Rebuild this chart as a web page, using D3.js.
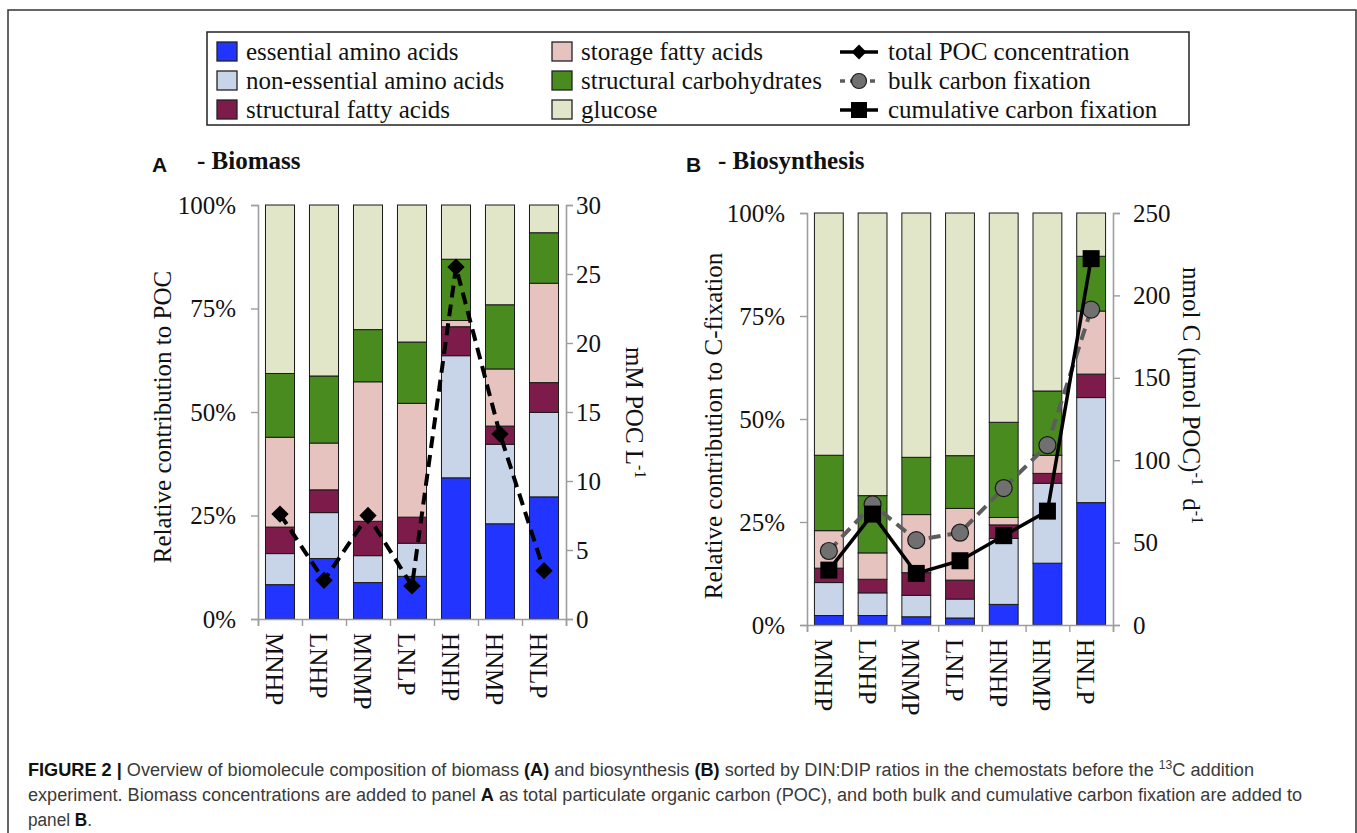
<!DOCTYPE html>
<html>
<head>
<meta charset="utf-8">
<script src="https://cdn.jsdelivr.net/npm/d3@7"></script>
<style>
body{margin:0;background:#fff;}
</style>
</head>
<body>
<script>
// chemostats, sorted by DIN:DIP
var stations = ["MNHP","LNHP","MNMP","LNLP","HNHP","HNMP","HNLP"];
var compounds = ["essential amino acids","non-essential amino acids","structural fatty acids",
                 "storage fatty acids","structural carbohydrates","glucose"];
var compoundColors = ["#2234ff","#c8d5e8","#7d1b4b","#e6c3bf","#4a8b20","#e1e6c8"];

// A - biomass, % of POC
var bioEssAA    = [8.3, 14.6, 8.8, 10.3, 34.1, 23.0, 29.5];
var bioNonEssAA = [7.5, 11.1, 6.5, 8.0, 29.5, 19.2, 20.4];
var bioStructFA = [6.4, 5.5, 8.3, 6.3, 7.0, 4.4, 7.2];
var bioStorFA   = [21.7, 11.3, 33.7, 27.5, 1.5, 13.8, 24.0];
var bioStructCH = [15.4, 16.2, 12.6, 14.8, 14.8, 15.5, 12.2];
var bioGlucose  = [40.7, 41.3, 30.1, 33.1, 13.1, 24.1, 6.7];
var pocConc     = [7.6, 2.8, 7.5, 2.4, 25.5, 13.4, 3.5];   // mM POC L-1

// B - biosynthesis, % of C-fixation
var synEssAA    = [2.3, 2.3, 2.0, 1.7, 5.0, 15.0, 29.7];
var synNonEssAA = [8.0, 5.5, 5.2, 4.6, 16.0, 19.4, 25.5];
var synStructFA = [3.5, 3.3, 5.5, 4.6, 3.3, 2.4, 5.7];
var synStorFA   = [9.1, 6.4, 14.1, 17.4, 1.8, 4.4, 15.3];
var synStructCH = [18.3, 13.9, 13.9, 12.8, 23.1, 15.6, 13.3];
var synGlucose  = [58.8, 68.6, 59.3, 58.9, 50.8, 43.2, 10.5];
var bulkFix     = [44.9, 73.2, 51.5, 56.0, 83.1, 109.1, 191.4]; // nmol C (umol POC)-1 d-1
var cumFix      = [33.3, 67.3, 31.3, 39.0, 54.2, 69.1, 222.3];

var pctTicks = [0, 25, 50, 75, 100];
var pocTicks = [0, 5, 10, 15, 20, 25, 30];
var fixTicks = [0, 50, 100, 150, 200, 250];

var SERIF = '"Liberation Serif","Times New Roman",serif';
var SANS = '"Liberation Sans",Arial,sans-serif';

var W = 1357, H = 833;
var svg = d3.select("body").append("svg").attr("width", W).attr("height", H)
    .style("font-family", SERIF);

// outer frame
svg.append("rect").attr("x", 8).attr("y", 10).attr("width", 1348).attr("height", 900)
    .attr("fill", "none").attr("stroke", "#333").attr("stroke-width", 1.5);

function rowsOf(series){
    return stations.map(function(s, i){
        var r = {station: s};
        compounds.forEach(function(c, j){ r[c] = series[j][i]; });
        return r;
    });
}

function styleAxis(g){
    g.attr("font-family", null);
    g.select(".domain").attr("stroke", "#9d9d9d").attr("stroke-width", 1.6);
    g.selectAll(".tick line").attr("stroke", "#9d9d9d").attr("stroke-width", 1.4);
    g.selectAll(".tick text").attr("font-size", 25).attr("fill", "#111");
}

function diamond(sel, size){
    sel.attr("d", d3.symbol(d3.symbolSquare, size)());
}

function drawPanel(p){
    var x = d3.scaleBand().domain(stations).range([p.x0, p.x1]).paddingInner(0.34).paddingOuter(0.17);
    var y = d3.scaleLinear().domain([0, 100]).range([p.y1, p.y0]);
    var yR = d3.scaleLinear().domain([0, p.rMax]).range([p.y1, p.y0]);
    var slots = d3.scaleLinear().domain([0, stations.length]).range([p.x0, p.x1]);

    var stacked = d3.stack().keys(compounds)(rowsOf(p.series));
    var g = svg.append("g");
    g.selectAll("g.layer").data(stacked).enter().append("g")
        .attr("class", "layer")
        .attr("fill", function(d, i){ return compoundColors[i]; })
        .selectAll("rect").data(function(d){ return d; }).enter().append("rect")
        .attr("x", function(d){ return x(d.data.station); })
        .attr("width", x.bandwidth())
        .attr("y", function(d){ return y(d[1]); })
        .attr("height", function(d){ return y(d[0]) - y(d[1]); })
        .attr("stroke", "#1a1a1a").attr("stroke-width", 1);

    var gl = svg.append("g").attr("transform", "translate(" + p.x0 + ",0)")
        .call(d3.axisLeft(y).tickValues(pctTicks).tickSize(7).tickPadding(15)
            .tickFormat(function(d){ return d + "%"; }));
    styleAxis(gl);
    var gr = svg.append("g").attr("transform", "translate(" + p.x1 + ",0)")
        .call(d3.axisRight(yR).tickValues(p.rTicks).tickSize(7).tickPadding(p.rPad));
    styleAxis(gr);
    var gb = svg.append("g").attr("transform", "translate(0," + p.y1 + ")")
        .call(d3.axisBottom(slots).tickValues(d3.range(stations.length + 1)).tickSize(7).tickFormat(""));
    styleAxis(gb);

    svg.append("g").selectAll("text").data(stations).enter().append("text")
        .attr("transform", function(d){
            return "translate(" + (x(d) + x.bandwidth() / 2 - 14) + "," + (p.y1 + 14) + ") rotate(90)";
        })
        .attr("font-size", 25).text(function(d){ return d; });

    return {x: x, yR: yR, cx: function(d, i){ return x(stations[i]) + x.bandwidth() / 2; }};
}

// ---------- panel A
var A = drawPanel({x0: 258, x1: 566, y0: 205, y1: 619, series:
    [bioEssAA, bioNonEssAA, bioStructFA, bioStorFA, bioStructCH, bioGlucose],
    rMax: 30, rTicks: pocTicks, rPad: 3});

svg.append("path").datum(pocConc)
    .attr("d", d3.line().x(A.cx).y(function(d){ return A.yR(d); }))
    .attr("fill", "none").attr("stroke", "#000").attr("stroke-width", 4)
    .attr("stroke-dasharray", "12,7");
svg.append("g").selectAll("path").data(pocConc).enter().append("path")
    .attr("transform", function(d, i){ return "translate(" + A.cx(d, i) + "," + A.yR(d) + ") rotate(45)"; })
    .call(diamond, 150).attr("fill", "#000");

// ---------- panel B
var B = drawPanel({x0: 807, x1: 1113, y0: 213, y1: 625, series:
    [synEssAA, synNonEssAA, synStructFA, synStorFA, synStructCH, synGlucose],
    rMax: 250, rTicks: fixTicks, rPad: 13});

svg.append("path").datum(bulkFix)
    .attr("d", d3.line().x(B.cx).y(function(d){ return B.yR(d); }))
    .attr("fill", "none").attr("stroke", "#5c5c5c").attr("stroke-width", 4)
    .attr("stroke-dasharray", "12,7");
svg.append("g").selectAll("circle").data(bulkFix).enter().append("circle")
    .attr("cx", B.cx).attr("cy", function(d){ return B.yR(d); }).attr("r", 8.5)
    .attr("fill", "#707070").attr("stroke", "#1a1a1a").attr("stroke-width", 1.2);

svg.append("path").datum(cumFix)
    .attr("d", d3.line().x(B.cx).y(function(d){ return B.yR(d); }))
    .attr("fill", "none").attr("stroke", "#000").attr("stroke-width", 3.5);
svg.append("g").selectAll("rect").data(cumFix).enter().append("rect")
    .attr("x", function(d, i){ return B.cx(d, i) - 8.5; })
    .attr("y", function(d){ return B.yR(d) - 8.5; })
    .attr("width", 17).attr("height", 17).attr("fill", "#000");

// ---------- axis titles
svg.append("text").attr("transform", "translate(171,417) rotate(-90)")
    .attr("text-anchor", "middle").attr("font-size", 25).text("Relative contribution to POC");
var tA = svg.append("text").attr("transform", "translate(626,347) rotate(90)").attr("font-size", 25);
tA.append("tspan").text("mM POC  L");
tA.append("tspan").attr("font-size", 16).attr("dy", -9).text("-1");

svg.append("text").attr("transform", "translate(722,426) rotate(-90)")
    .attr("text-anchor", "middle").attr("font-size", 25).text("Relative contribution to C-fixation");
var tB = svg.append("text").attr("transform", "translate(1183,267) rotate(90)").attr("font-size", 25);
tB.append("tspan").text("nmol C (\u00b5mol POC)");
tB.append("tspan").attr("font-size", 16).attr("dy", -9).text("-1");
tB.append("tspan").attr("dy", 9).text("\u00a0 d");
tB.append("tspan").attr("font-size", 16).attr("dy", -9).text("-1");

// ---------- panel titles
svg.append("text").attr("class", "sans").attr("x", 152).attr("y", 172).attr("font-size", 21)
    .attr("font-weight", "bold").text("A");
svg.append("text").attr("x", 197).attr("y", 169).attr("font-size", 25).attr("font-weight", "bold").text("- Biomass");
svg.append("text").attr("class", "sans").attr("x", 686).attr("y", 172).attr("font-size", 21)
    .attr("font-weight", "bold").text("B");
svg.append("text").attr("x", 718).attr("y", 169).attr("font-size", 25).attr("font-weight", "bold").text("- Biosynthesis");

// ---------- legend
var leg = svg.append("g");
leg.append("rect").attr("x", 207).attr("y", 32).attr("width", 982).attr("height", 93)
    .attr("fill", "#fff").attr("stroke", "#222").attr("stroke-width", 1.5);
var rowY = [52, 81, 110];
var swatchX = [217, 217, 217, 552, 552, 552];
compounds.forEach(function(c, i){
    var yy = rowY[i % 3];
    leg.append("rect").attr("x", swatchX[i]).attr("y", yy - 10).attr("width", 20).attr("height", 19)
        .attr("fill", compoundColors[i]).attr("stroke", "#222").attr("stroke-width", 1.3);
    leg.append("text").attr("x", swatchX[i] + 29).attr("y", yy + 8).attr("font-size", 25).text(c);
});
var lineItems = ["total POC concentration", "bulk carbon fixation", "cumulative carbon fixation"];
lineItems.forEach(function(c, i){
    var yy = rowY[i];
    var ln = leg.append("line").attr("x1", 840).attr("x2", 878).attr("y1", yy).attr("y2", yy)
        .attr("stroke-width", 3.5);
    if (i == 0){
        ln.attr("stroke", "#000");
        leg.append("path").attr("transform", "translate(859," + yy + ") rotate(45)").call(diamond, 110).attr("fill", "#000");
    } else if (i == 1){
        ln.attr("stroke", "#5c5c5c").attr("stroke-dasharray", "5,5");
        leg.append("circle").attr("cx", 859).attr("cy", yy).attr("r", 7.5)
            .attr("fill", "#707070").attr("stroke", "#1a1a1a").attr("stroke-width", 1.2);
    } else {
        ln.attr("stroke", "#000");
        leg.append("rect").attr("x", 851).attr("y", yy - 8).attr("width", 16).attr("height", 16).attr("fill", "#000");
    }
    leg.append("text").attr("x", 888).attr("y", yy + 8).attr("font-size", 25).text(c);
});

// ---------- caption
var capLines = [
    [["FIGURE 2 |", "b"], [" Overview of biomolecule composition of biomass ", ""], ["(A)", "b"],
     [" and biosynthesis ", ""], ["(B)", "b"], [" sorted by DIN:DIP ratios in the chemostats before the ", ""],
     ["13", "sup"], ["C addition", ""]],
    [["experiment. Biomass concentrations are added to panel ", ""], ["A", "b"],
     [" as total particulate organic carbon (POC), and both bulk and cumulative carbon fixation are added to", ""]],
    [["panel ", ""], ["B", "b"], [".", ""]]
];
var capLen = [1226, 1274, 64];
var capY = [776, 801, 826];
capLines.forEach(function(line, li){
    var t = svg.append("text").attr("class", "sans").attr("x", 28).attr("y", capY[li]).attr("font-size", 18)
        .attr("textLength", capLen[li]).attr("lengthAdjust", "spacingAndGlyphs").attr("fill", "#3a3a3a");
    var shifted = false;
    line.forEach(function(seg){
        var ts = t.append("tspan").text(seg[0]).attr("fill", seg[1] == "b" ? "#111" : "#3a3a3a");
        if (seg[1] == "b") ts.attr("font-weight", "bold");
        if (seg[1] == "sup"){ ts.attr("font-size", 12).attr("dy", -7); shifted = true; }
        else if (shifted){ ts.attr("dy", 7); shifted = false; }
    });
});

// fonts: serif everywhere except the panel letters and the caption
svg.selectAll("text").each(function(){
    var s = d3.select(this);
    s.style("font-family", this.classList.contains("sans") ? SANS : SERIF);
    if (!s.attr("fill")) s.attr("fill", "#111");
});
</script>
</body>
</html>
